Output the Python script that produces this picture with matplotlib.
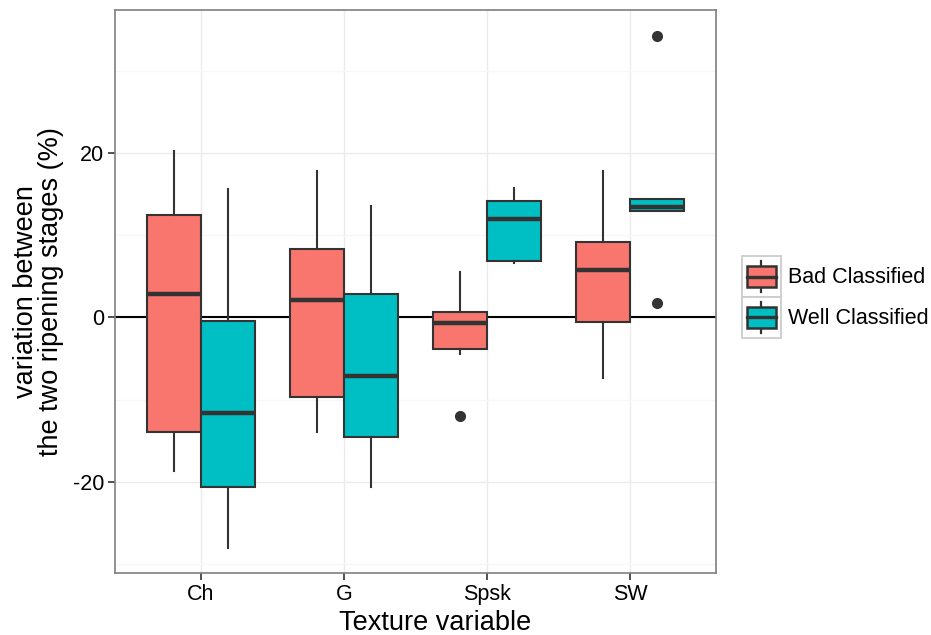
import matplotlib
matplotlib.use("Agg")
import matplotlib.pyplot as plt
from matplotlib.legend_handler import HandlerBase
from matplotlib.patches import Rectangle, Patch
from matplotlib.lines import Line2D

plt.rcParams['font.family'] = ['Liberation Sans', 'DejaVu Sans']
plt.rcParams['axes.unicode_minus'] = False

variables = ['Ch', 'G', 'Spsk', 'SW']
groups = ['Bad Classified', 'Well Classified']
colors = ['#F8766D', '#00BFC4']

# whisker low, q1, median, q3, whisker high
bad_stats = [
    [-18.7, -14.0, 2.9, 12.4, 20.3],
    [-14.0, -9.7, 2.1, 8.3, 17.8],
    [-4.4, -3.8, -0.7, 0.7, 5.5],
    [-7.4, -0.6, 5.8, 9.2, 17.8],
]
well_stats = [
    [-28.1, -20.6, -11.6, -0.5, 15.6],
    [-20.6, -14.5, -7.1, 2.8, 13.6],
    [6.6, 6.9, 12.0, 14.2, 15.7],
    [12.9, 12.9, 13.4, 14.4, 14.4],
]
bad_outliers = [[], [], [-12.0], []]
well_outliers = [[], [], [], [34.2, 1.8]]


def make_stats(rows, outliers):
    out = []
    for r, o in zip(rows, outliers):
        out.append(dict(whislo=r[0], q1=r[1], med=r[2], q3=r[3], whishi=r[4], fliers=o))
    return out


class BoxKeyHandler(HandlerBase):
    def create_artists(self, legend, orig_handle, xdescent, ydescent,
                       width, height, fontsize, trans):
        x0, y0 = -xdescent, -ydescent
        fc = orig_handle.get_facecolor()
        bg = Rectangle((x0, y0), width, height, facecolor='white',
                       edgecolor='#CCCCCC', lw=1.3, transform=trans)
        cx = x0 + width / 2
        wh = Line2D([cx, cx], [y0 + 0.12 * height, y0 + 0.88 * height],
                    color='#333333', lw=1.6, transform=trans)
        box = Rectangle((x0 + 0.12 * width, y0 + 0.25 * height), 0.77 * width, 0.5 * height,
                        facecolor=fc, edgecolor='#333333', lw=1.8, transform=trans)
        med = Line2D([x0 + 0.12 * width, x0 + 0.89 * width], [y0 + 0.5 * height] * 2,
                     color='#333333', lw=2.4, transform=trans)
        return [bg, wh, box, med]


fig = plt.figure(figsize=(9.31, 6.35), dpi=100)
ax = fig.add_axes([115 / 931, (635 - 573) / 635, (716 - 115) / 931, (573 - 10) / 635])

ax.axhline(0, color='black', lw=1.5, zorder=1)

width = 0.375
positions = list(range(1, len(variables) + 1))
for stats, outl, col, off in [(bad_stats, bad_outliers, colors[0], -width / 2),
                              (well_stats, well_outliers, colors[1], width / 2)]:
    ax.bxp(make_stats(stats, outl), positions=[p + off for p in positions],
           widths=width, patch_artist=True, showcaps=False, manage_ticks=False,
           boxprops=dict(facecolor=col, edgecolor='#333333', lw=1.5),
           medianprops=dict(color='#333333', lw=3.2),
           whiskerprops=dict(color='#333333', lw=1.5),
           flierprops=dict(marker='o', markerfacecolor='#333333', markeredgecolor='#333333',
                           markersize=7),
           zorder=3)

ax.set_xlim(0.4, 4.6)
ax.set_ylim(-31.1, 37.4)
ax.set_xticks(positions)
ax.set_xticklabels(variables)
ax.set_yticks([-20, 0, 20])
ax.set_yticks([-30, -10, 10, 30], minor=True)
ax.grid(True, which='major', color='#EBEBEB', lw=1.0, zorder=0)
ax.grid(True, which='minor', axis='y', color='#F7F7F7', lw=1.0, zorder=0)
ax.set_axisbelow(True)
ax.tick_params(which='major', length=5, width=1.2, color='#333333', labelsize=15.5,
               labelcolor='black', pad=3)
ax.tick_params(which='minor', length=0)
for s in ax.spines.values():
    s.set_color('#7F7F7F')
    s.set_linewidth(1.2)

ax.set_xlabel('Texture variable', fontsize=19.5, labelpad=2)
ax.xaxis.set_label_coords((435 - 115) / (716 - 115), -0.065)
ax.xaxis.label.set_va('top')
ax.set_ylabel('variation between\nthe two ripening stages (%)', fontsize=19.5, labelpad=6,
              linespacing=0.95)

handles = [Patch(facecolor=c) for c in colors]
fig.legend(handles, groups, loc='center left', bbox_to_anchor=(742 / 931, (635 - 297) / 635),
           bbox_transform=fig.transFigure, frameon=False, borderpad=0, borderaxespad=0,
           handlelength=1.8, handleheight=2.55, labelspacing=0, handletextpad=0.35,
           fontsize=15.5, handler_map={Patch: BoxKeyHandler()})

fig.savefig('out.png', dpi=100)
